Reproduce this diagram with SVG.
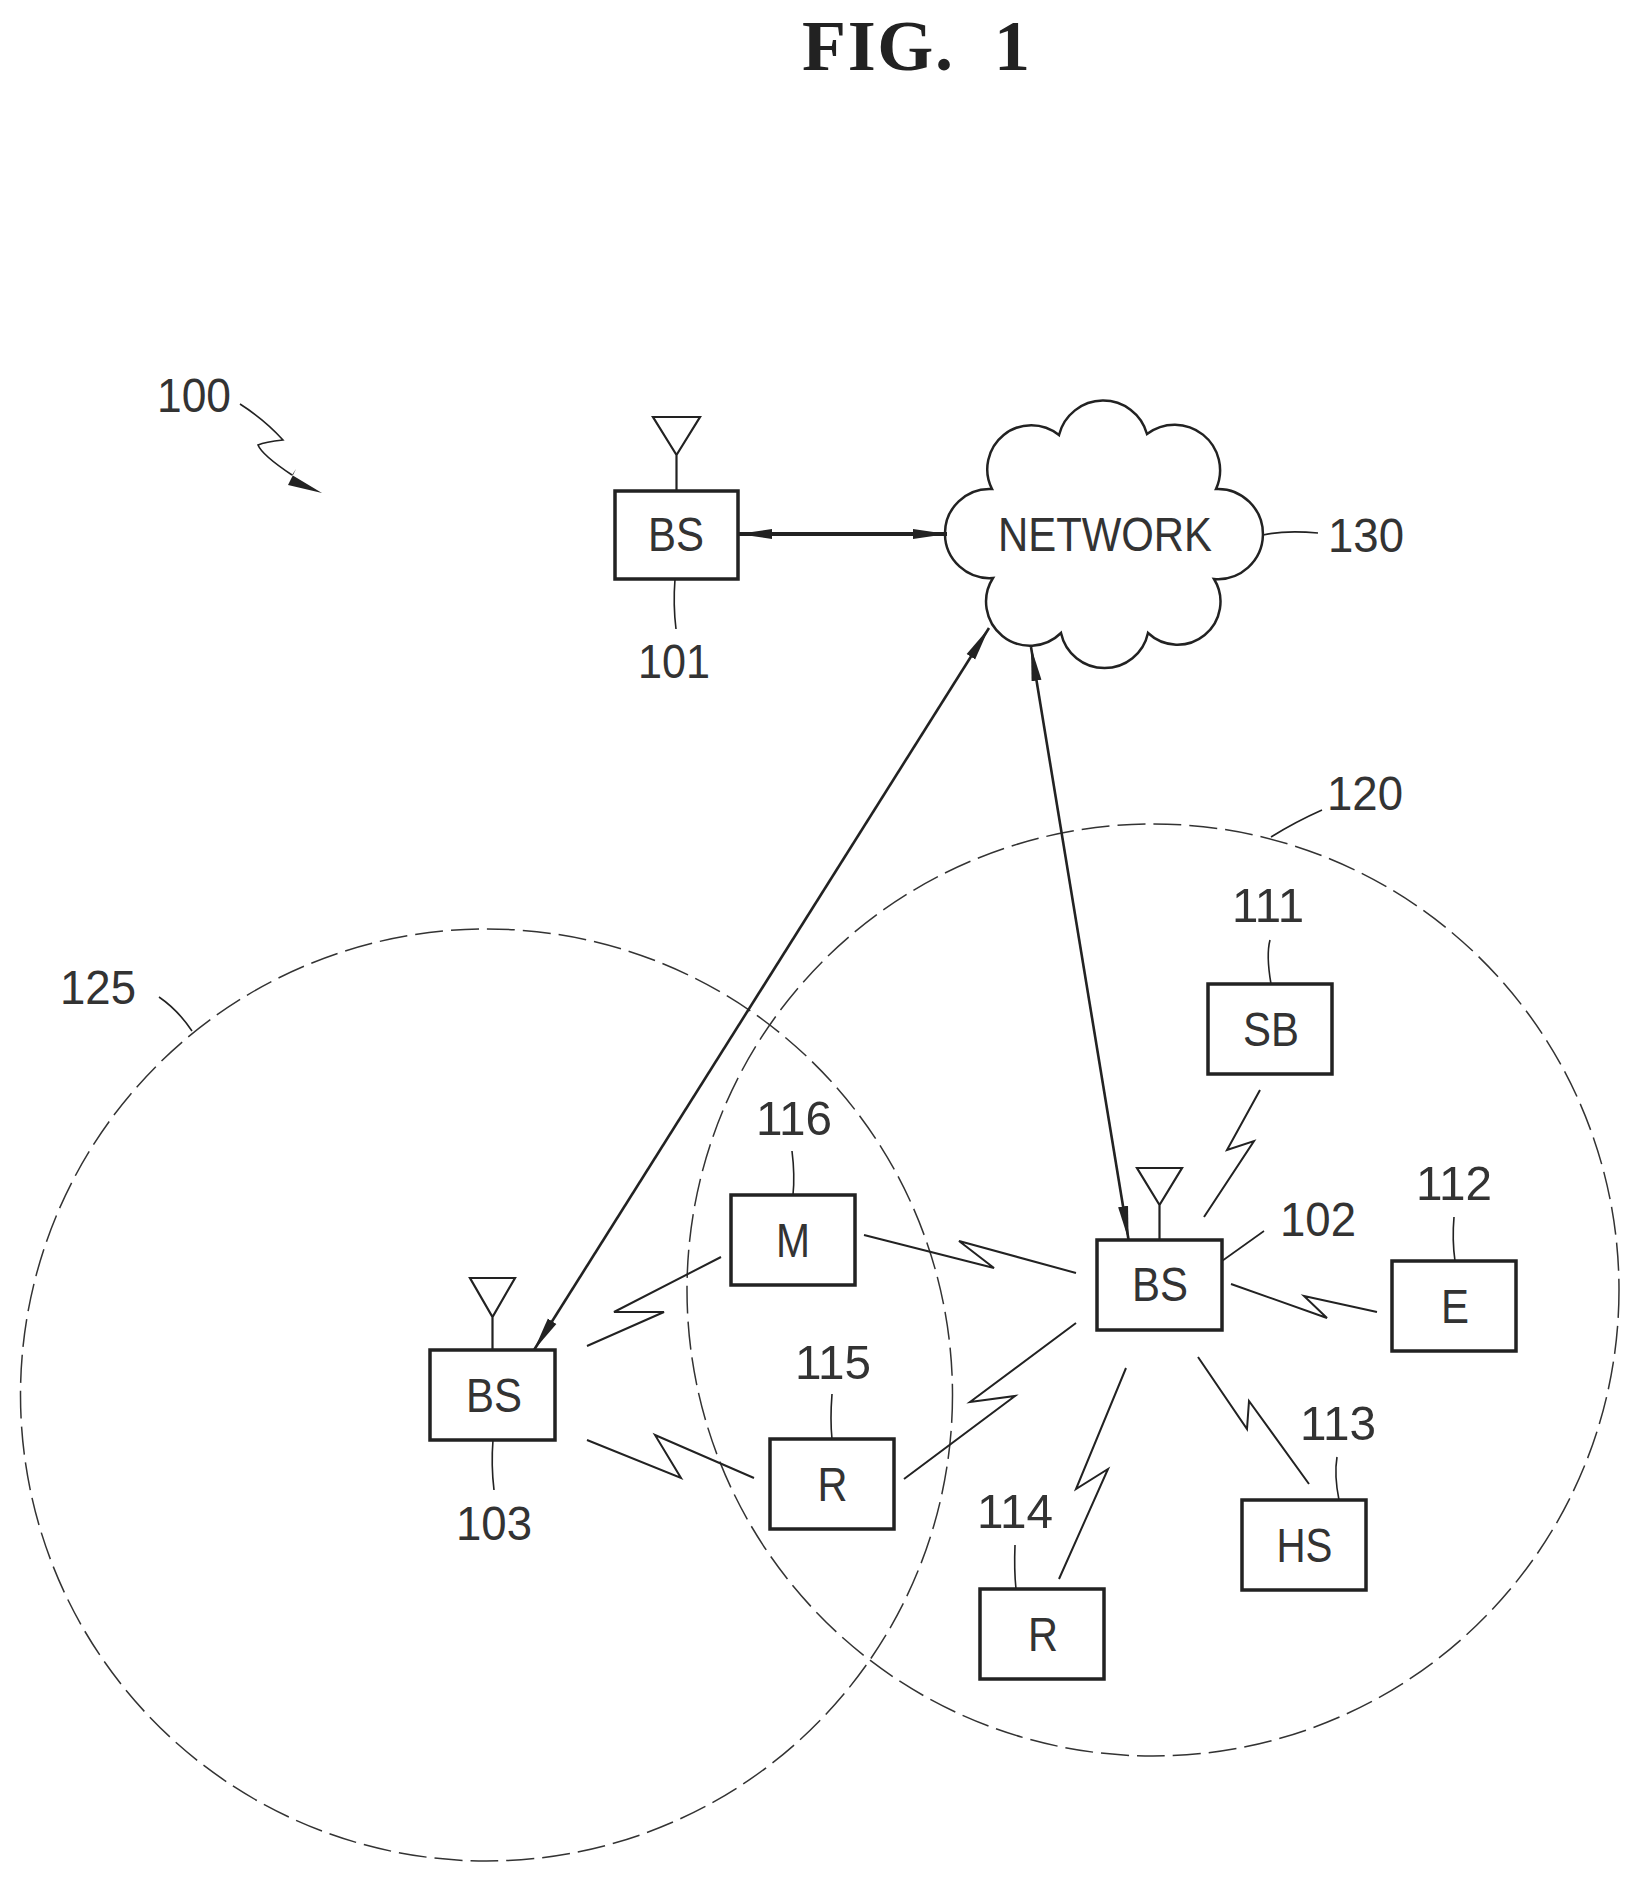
<svg xmlns="http://www.w3.org/2000/svg" width="1641" height="1883" viewBox="0 0 1641 1883">
<style>
.box{fill:none;stroke:#222;stroke-width:3.5}
.ant{fill:none;stroke:#222;stroke-width:2.2}
.cell{fill:none;stroke:#333;stroke-width:1.5;stroke-dasharray:28 8}
.cloud{fill:none;stroke:#222;stroke-width:2.5}
.lead{fill:none;stroke:#222;stroke-width:1.6}
.bolt{fill:none;stroke:#222;stroke-width:2}
.arr{fill:none;stroke:#222;stroke-width:2.6}
text{font-family:"Liberation Sans",Arial,sans-serif;font-size:49px;fill:#333;text-anchor:middle}
.title{font-family:"Liberation Serif","Times New Roman",serif;font-size:72px;font-weight:bold;fill:#222}
</style>
<defs>
<marker id="dart" markerUnits="userSpaceOnUse" markerWidth="36" markerHeight="14" refX="34" refY="6" orient="auto-start-reverse"><path d="M0 1L34 6L0 11Z" fill="#222"/></marker>
</defs>
<rect width="1641" height="1883" fill="#fff"/>
<text id="fig-title" class="title" x="916" y="70" textLength="228" lengthAdjust="spacing" xml:space="preserve">FIG.  1</text>
<g id="cells">
<circle id="cell-120" class="cell" cx="1153" cy="1290" r="466"/>
<circle id="cell-125" class="cell" cx="486.5" cy="1395" r="466"/>
</g>
<g id="connectors">
<path class="arr" style="stroke-width:4" d="M738 534H947" marker-start="url(#dart)" marker-end="url(#dart)"/>
<path class="arr" d="M534 1350L989 628" marker-start="url(#dart)" marker-end="url(#dart)"/>
<path class="arr" d="M1128.6 1240L1031 647" marker-start="url(#dart)" marker-end="url(#dart)"/>
<polyline class="bolt" points="721,1257 614,1312 664,1312 587,1346"/>
<polyline class="bolt" points="864,1235 994,1268 959,1241 1076,1273"/>
<polyline class="bolt" points="1076,1323 970,1402 1015,1396 904,1479"/>
<polyline class="bolt" points="587,1440 681,1478 655,1435 754,1478"/>
<polyline class="bolt" points="1260,1090 1227,1150 1254,1141 1204,1217"/>
<polyline class="bolt" points="1231,1284 1327,1318 1304,1296 1377,1312"/>
<polyline class="bolt" points="1198,1357 1247,1429 1249,1401 1309,1484"/>
<polyline class="bolt" points="1126,1368 1076,1489 1108,1469 1059,1579"/>
<path class="lead" d="M675 579Q673 605 676 629"/>
<path class="lead" d="M1263 535Q1285 530 1318 533"/>
<path class="lead" d="M493 1440Q491 1465 494 1490"/>
<path class="lead" d="M792 1151Q795 1175 793 1195"/>
<path class="lead" d="M832 1394Q830 1420 832 1439"/>
<path class="lead" d="M1015 1545Q1014 1570 1016 1589"/>
<path class="lead" d="M1270 940Q1266 955 1271 984"/>
<path class="lead" d="M1264 1231L1222 1261"/>
<path class="lead" d="M1454 1217Q1452 1240 1455 1261"/>
<path class="lead" d="M1337 1457Q1334 1475 1339 1500"/>
<path class="lead" d="M1322 810Q1295 822 1271 837"/>
<path class="lead" d="M159 997Q178 1010 192 1031"/>
<path class="lead" d="M240 404Q265 420 283 440Q265 442 258 445Q262 455 292 475"/>
<path d="M292 475L322 493L288 485L296 469Z" fill="#222"/>
</g>
<g id="label-100"><text x="194" y="412" textLength="74" lengthAdjust="spacingAndGlyphs">100</text></g>
<g id="label-120"><text x="1365" y="810" textLength="76" lengthAdjust="spacingAndGlyphs">120</text></g>
<g id="label-125"><text x="98" y="1004" textLength="76" lengthAdjust="spacingAndGlyphs">125</text></g>
<g id="network-130">
<path class="cloud" d="M992 489A44 44 0 0 1 1059 435A45.5 45.5 0 0 1 1147 434A45.5 45.5 0 0 1 1216 489A45.1 45.1 0 1 1 1214 579A43 43 0 0 1 1148 633A44.5 44.5 0 0 1 1061 633A44 44 0 0 1 993 578A44.6 44.6 0 1 1 992 489Z"/>
<text x="1105" y="551" textLength="214" lengthAdjust="spacingAndGlyphs">NETWORK</text>
<text x="1366" y="552" textLength="76" lengthAdjust="spacingAndGlyphs">130</text>
</g>
<g id="bs-101">
<path class="ant" d="M653 417H700L676.5 455ZM676.5 455V491"/>
<rect class="box" x="615" y="491" width="123" height="88"/>
<text x="676" y="551" textLength="56" lengthAdjust="spacingAndGlyphs">BS</text>
<text x="674" y="678" textLength="72" lengthAdjust="spacingAndGlyphs">101</text>
</g>
<g id="bs-102">
<path class="ant" d="M1137 1168H1182L1159.5 1205ZM1159.5 1205V1240"/>
<rect class="box" x="1097" y="1240" width="125" height="90"/>
<text x="1160" y="1301" textLength="56" lengthAdjust="spacingAndGlyphs">BS</text>
<text x="1318" y="1236" textLength="76" lengthAdjust="spacingAndGlyphs">102</text>
</g>
<g id="bs-103">
<path class="ant" d="M470 1278H515L492.5 1317ZM492.5 1317V1350"/>
<rect class="box" x="430" y="1350" width="125" height="90"/>
<text x="494" y="1412" textLength="56" lengthAdjust="spacingAndGlyphs">BS</text>
<text x="494" y="1540" textLength="76" lengthAdjust="spacingAndGlyphs">103</text>
</g>
<g id="sb-111">
<rect class="box" x="1208" y="984" width="124" height="90"/>
<text x="1271" y="1046" textLength="56" lengthAdjust="spacingAndGlyphs">SB</text>
<text x="1268" y="922" textLength="72" lengthAdjust="spacingAndGlyphs">111</text>
</g>
<g id="e-112">
<rect class="box" x="1392" y="1261" width="124" height="90"/>
<text x="1455" y="1323" textLength="28" lengthAdjust="spacingAndGlyphs">E</text>
<text x="1454" y="1200" textLength="76" lengthAdjust="spacingAndGlyphs">112</text>
</g>
<g id="hs-113">
<rect class="box" x="1242" y="1500" width="124" height="90"/>
<text x="1304.5" y="1562" textLength="56" lengthAdjust="spacingAndGlyphs">HS</text>
<text x="1338" y="1440" textLength="76" lengthAdjust="spacingAndGlyphs">113</text>
</g>
<g id="r-114">
<rect class="box" x="980" y="1589" width="124" height="90"/>
<text x="1043" y="1651" textLength="30" lengthAdjust="spacingAndGlyphs">R</text>
<text x="1015" y="1528" textLength="76" lengthAdjust="spacingAndGlyphs">114</text>
</g>
<g id="r-115">
<rect class="box" x="770" y="1439" width="124" height="90"/>
<text x="832.5" y="1501" textLength="30" lengthAdjust="spacingAndGlyphs">R</text>
<text x="833" y="1379" textLength="76" lengthAdjust="spacingAndGlyphs">115</text>
</g>
<g id="m-116">
<rect class="box" x="731" y="1195" width="124" height="90"/>
<text x="793" y="1257" textLength="34" lengthAdjust="spacingAndGlyphs">M</text>
<text x="794" y="1135" textLength="76" lengthAdjust="spacingAndGlyphs">116</text>
</g>
</svg>
